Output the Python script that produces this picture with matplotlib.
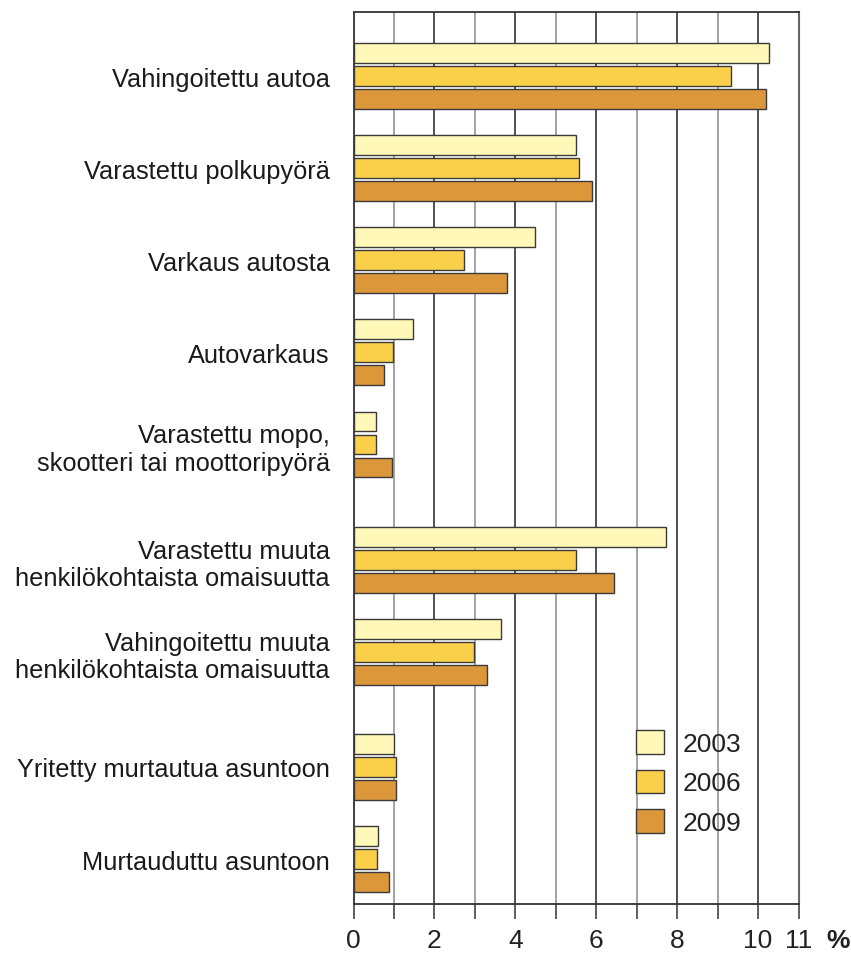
import numpy as np
import matplotlib
matplotlib.use("Agg")
import matplotlib.pyplot as plt
from matplotlib.patches import Patch

plt.rcParams["font.family"] = ["Liberation Sans", "DejaVu Sans"]

# Data (%)
categories = [
    "Vahingoitettu autoa",
    "Varastettu polkupyörä",
    "Varkaus autosta",
    "Autovarkaus",
    "Varastettu mopo,\nskootteri tai moottoripyörä",
    "Varastettu muuta\nhenkilökohtaista omaisuutta",
    "Vahingoitettu muuta\nhenkilökohtaista omaisuutta",
    "Yritetty murtautua asuntoon",
    "Murtauduttu asuntoon",
]
years = ["2003", "2006", "2009"]
v2003 = [10.28, 5.5, 4.49, 1.46, 0.55, 7.73, 3.65, 1.0, 0.6]
v2006 = [9.34, 5.57, 2.73, 0.98, 0.55, 5.5, 2.98, 1.05, 0.58]
v2009 = [10.2, 5.9, 3.79, 0.76, 0.95, 6.44, 3.3, 1.05, 0.87]
colors = ["#FFF8B8", "#FAD04A", "#DB9739"]

# group centres (uneven gaps like the original)
group_y = np.array([77, 169, 261, 353, 445.5, 561, 653, 768, 860])
offset = 23
bar_h = 19.5

fig = plt.figure(figsize=(8.51, 9.54), dpi=100)
ax = fig.add_axes([353.5 / 851, 1 - 905 / 954, 445 / 851, 892 / 954])

for i, (vals, col) in enumerate(zip([v2003, v2006, v2009], colors)):
    ax.barh(group_y + (i - 1) * offset, vals, height=bar_h, color=col,
            edgecolor="#3a3a3a", linewidth=1.0, zorder=3, label=years[i])

# grid lines: even dark, odd grey
for x in range(1, 11):
    ax.axvline(x, color="#222222" if x % 2 == 0 else "#8a8a8a", lw=1.1, zorder=1)

ax.set_xlim(0, 11)
ax.set_ylim(905, 13)
ax.set_yticks(group_y)
ax.set_yticklabels(categories, fontsize=18.3, multialignment="right", color="#1a1a1a")
ax.tick_params(axis="y", length=0, pad=17)

ax.set_xticks(range(12))
ax.set_xticklabels(["0", "", "2", "", "4", "", "6", "", "8", "", "10", "11"], fontsize=19)
ax.tick_params(axis="x", length=11, width=1.1, color="#333333", pad=6, labelcolor="#222222")
for j, t in enumerate(ax.xaxis.get_major_ticks()):
    t.tick1line.set_color("#222222" if j % 2 == 0 else "#8a8a8a")

for s in ["left", "top", "bottom"]:
    ax.spines[s].set_color("#333333")
    ax.spines[s].set_linewidth(1.3)
ax.spines["right"].set_color("#666666")
ax.spines["right"].set_linewidth(1.5)

fig.text(838 / 851, 1 - 941 / 954, "%", fontsize=19, fontweight="bold",
         ha="center", va="center", color="#222222")

handles = [Patch(facecolor=c, edgecolor="#3a3a3a", label=y) for c, y in zip(colors, years)]
leg = ax.legend(handles=handles, loc="upper left", bbox_to_anchor=(0.635, 0.195),
                frameon=False, fontsize=19, handlelength=1.06, handleheight=1.0,
                handletextpad=0.72, labelspacing=0.52, borderpad=0, borderaxespad=0)
for t in leg.get_texts():
    t.set_color("#222222")

fig.savefig("out.png", dpi=100)
